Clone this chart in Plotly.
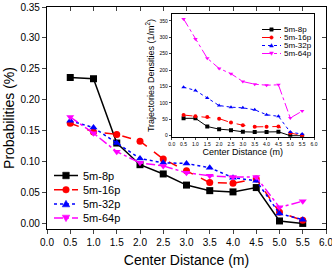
import plotly.graph_objects as go

distance = [0.5, 1.0, 1.5, 2.0, 2.5, 3.0, 3.5, 4.0, 4.5, 5.0, 5.5]

prob_8p = [0.236, 0.234, 0.130, 0.095, 0.080, 0.062, 0.053, 0.051, 0.058, 0.004, 0.000]
prob_16p = [0.162, 0.148, 0.144, 0.133, 0.104, 0.085, 0.066, 0.065, 0.072, 0.018, 0.005]
prob_32p = [0.166, 0.155, 0.130, 0.105, 0.098, 0.097, 0.090, 0.074, 0.069, 0.016, 0.006]
prob_64p = [0.172, 0.146, 0.116, 0.098, 0.093, 0.082, 0.077, 0.075, 0.075, 0.026, 0.036]

dens_8p = [53, 53, 28, 20, 17, 12, 11, 11, 12, 0, 0]
dens_16p = [63, 59, 57, 52, 40, 32, 27, 27, 28, 8, 1]
dens_32p = [148, 138, 115, 92, 87, 85, 79, 64, 59, 11, 5]
dens_64p = [356, 295, 236, 205, 189, 165, 157, 154, 155, 54, 75]

names = ["5m-8p", "5m-16p", "5m-32p", "5m-64p"]
colors = ["black", "red", "blue", "magenta"]
dashes = ["solid", "dash", "dot", "dashdot"]
symbols = ["square", "circle", "triangle-up", "triangle-down"]

x_ticks = [0.0, 0.5, 1.0, 1.5, 2.0, 2.5, 3.0, 3.5, 4.0, 4.5, 5.0, 5.5, 6.0]
y_ticks = [0.00, 0.05, 0.10, 0.15, 0.20, 0.25, 0.30, 0.35]
inset_y_ticks = [0, 50, 100, 150, 200, 250, 300, 350]

FONT = "Arial, Liberation Sans, sans-serif"
W, H = 332, 269
ML, MR, MT, MB = 47, 6, 7, 40
PW, PH = W - ML - MR, H - MT - MB


def px_x(px):
    return (px - ML) / PW


def px_y(py):
    return (H - MB - py) / PH


fig = go.Figure()
probs = [prob_8p, prob_16p, prob_32p, prob_64p]
dens = [dens_8p, dens_16p, dens_32p, dens_64p]
for n, c, d, s, p in zip(names, colors, dashes, symbols, probs):
    fig.add_trace(go.Scatter(x=distance, y=p, name=n, mode="lines+markers",
                             line=dict(color=c, dash=d, width=1.5),
                             marker=dict(symbol=s, color=c, size=7),
                             showlegend=False, xaxis="x", yaxis="y"))
for n, c, d, s, p in zip(names, colors, dashes, symbols, dens):
    fig.add_trace(go.Scatter(x=distance, y=p, name=n, mode="lines+markers",
                             line=dict(color=c, dash=d, width=1),
                             marker=dict(symbol=s, color=c, size=4),
                             showlegend=False, xaxis="x2", yaxis="y2"))
# dummy trace for mirrored inward ticks
fig.add_trace(go.Scatter(x=[None], y=[None], xaxis="x3", yaxis="y3", showlegend=False, hoverinfo="skip"))

# ---- compact legends (layout elements) ----
shapes, annotations = [], []


def marker_shape(sym, color, cx, cy, r):
    base = dict(xref="paper", yref="paper", xsizemode="pixel", ysizemode="pixel",
                xanchor=cx, yanchor=cy, fillcolor=color, line=dict(color=color, width=0.5))
    if sym == "square":
        return dict(type="rect", x0=-r, x1=r, y0=-r, y1=r, **base)
    if sym == "circle":
        return dict(type="circle", x0=-r, x1=r, y0=-r, y1=r, **base)
    if sym == "triangle-up":
        return dict(type="path", path=f"M{-r*1.15},{-r*0.9} L{r*1.15},{-r*0.9} L0,{r*1.1} Z", **base)
    return dict(type="path", path=f"M{-r*1.15},{r*0.9} L{r*1.15},{r*0.9} L0,{-r*1.1} Z", **base)


def build_legend(x_line0, x_line1, x_text, y_first, step, lw, r, fsize):
    for i, (n, c, d, s) in enumerate(zip(names, colors, dashes, symbols)):
        py = y_first + i * step
        shapes.append(dict(type="line", xref="paper", yref="paper",
                           x0=px_x(x_line0), x1=px_x(x_line1), y0=px_y(py), y1=px_y(py),
                           line=dict(color=c, dash=d, width=lw)))
        shapes.append(marker_shape(s, c, px_x((x_line0 + x_line1) / 2), px_y(py), r))
        annotations.append(dict(text=n, xref="paper", yref="paper", x=px_x(x_text), y=px_y(py),
                                xanchor="left", yanchor="middle", showarrow=False,
                                font=dict(size=fsize, family=FONT, color="black")))


build_legend(54, 78, 81, 175.5, 14.2, 1.5, 3.3, 11)
build_legend(262, 281, 282, 29.5, 8, 1, 1.7, 8)

fig.update_layout(
    width=W, height=H,
    margin=dict(l=ML, r=MR, t=MT, b=MB, autoexpand=False),
    paper_bgcolor="white", plot_bgcolor="white",
    font=dict(family=FONT, color="black"),
    showlegend=False,
    shapes=shapes, annotations=annotations,
    xaxis=dict(range=[0, 6], tickvals=x_ticks, tickformat=".1f", ticks="outside", ticklen=4,
               ticklabeloverflow="allow",
               showline=True, linecolor="black", linewidth=1.2, showgrid=False, zeroline=False,
               tickfont=dict(size=10), title=dict(text="Center Distance (m)", font=dict(size=14), standoff=8)),
    yaxis=dict(range=[-0.009, 0.35], tickvals=y_ticks, tickformat=".2f", ticks="outside", ticklen=4,
               ticklabeloverflow="allow",
               showline=True, linecolor="black", linewidth=1.2, showgrid=False, zeroline=False,
               tickfont=dict(size=10), title=dict(text="Probabilities (%)", font=dict(size=14), standoff=2)),
    xaxis3=dict(range=[0, 6], tickvals=x_ticks, ticks="inside", ticklen=4, showticklabels=False,
                overlaying="x", side="top", anchor="y3", showline=True, linecolor="black", linewidth=1.2,
                showgrid=False, zeroline=False),
    yaxis3=dict(range=[-0.009, 0.35], tickvals=y_ticks, ticks="inside", ticklen=4, showticklabels=False,
                overlaying="y", side="right", anchor="x3", showline=True, linecolor="black", linewidth=1.2,
                showgrid=False, zeroline=False),
    xaxis2=dict(domain=[px_x(171.7), px_x(314)], anchor="y2", range=[0, 6], tickvals=x_ticks, tickformat=".1f",
                ticks="outside", ticklen=2, showline=True, mirror=True, linecolor="black", linewidth=0.8,
                ticklabeloverflow="allow",
                showgrid=False, zeroline=False, tickfont=dict(size=5),
                title=dict(text="Center Distance (m)", font=dict(size=9), standoff=3)),
    yaxis2=dict(domain=[px_y(136.7), px_y(14.3)], anchor="x2", range=[-3, 370], tickvals=inset_y_ticks,
                ticks="outside", ticklen=2, showline=True, mirror=True, linecolor="black", linewidth=0.8,
                showgrid=False, zeroline=False, tickfont=dict(size=5),
                title=dict(text="Trajectories Densities (1/m<sup>2</sup>)", font=dict(size=9), standoff=3)),
)

fig.write_html("out.html", config={"displayModeBar": False},
               post_script="document.body.style.margin='0';document.body.style.padding='0';")
